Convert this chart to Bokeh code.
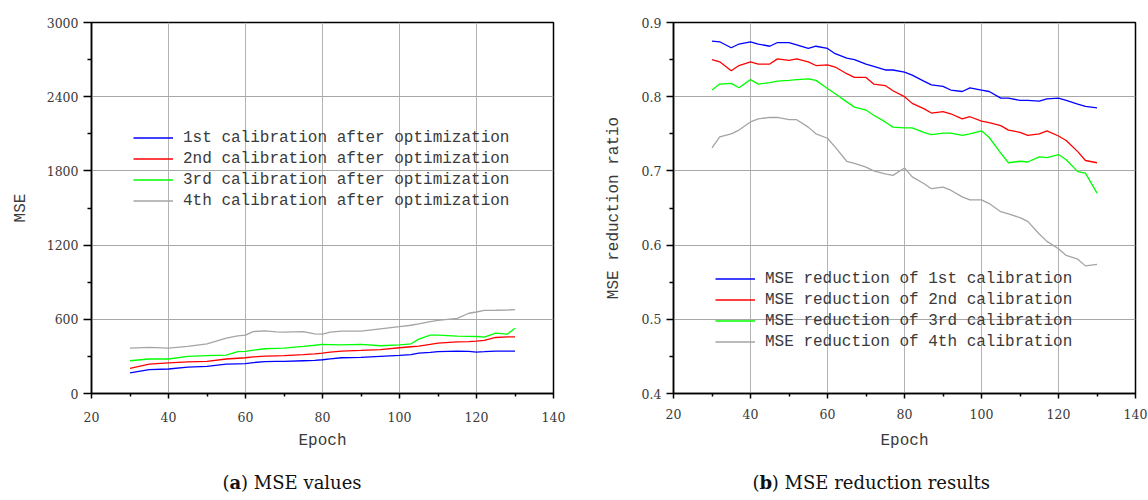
from bokeh.plotting import figure
from bokeh.layouts import row, column
from bokeh.models import FixedTicker, Legend, LegendItem
from bokeh.core.properties import value
from bokeh.embed import file_html
from bokeh.resources import INLINE

# ---------------- data: (a) MSE values ----------------
epochs_a = [30, 35, 40, 45, 50, 55, 58, 60, 62, 65, 68, 70, 75, 78, 80, 82, 85, 90,
            95, 100, 103, 105, 108, 110, 115, 118, 120, 122, 125, 128, 130]
mse_cal1 = [166, 193, 198, 214, 220, 238, 240, 241, 250, 257, 259, 260, 265, 268, 273, 280,
            289, 292, 300, 308, 315, 327, 333, 338, 343, 340, 335, 338, 343, 342, 343]
mse_cal2 = [204, 238, 247, 255, 260, 279, 285, 289, 296, 303, 305, 306, 314, 320, 327, 335,
            343, 348, 354, 370, 378, 383, 398, 407, 418, 420, 423, 430, 453, 458, 458]
mse_cal3 = [265, 279, 279, 300, 306, 311, 338, 340, 350, 362, 365, 367, 381, 390, 397, 396,
            394, 397, 386, 394, 402, 440, 472, 472, 464, 462, 461, 456, 488, 480, 528]
mse_cal4 = [367, 373, 367, 381, 402, 448, 466, 472, 501, 506, 499, 496, 501, 482, 480, 496,
            504, 504, 523, 541, 552, 563, 582, 592, 608, 649, 659, 672, 673, 675, 678]
labels_a = ["1st calibration after optimization", "2nd calibration after optimization",
            "3rd calibration after optimization", "4th calibration after optimization"]

# ---------------- data: (b) MSE reduction results ----------------
epochs_b = [30, 32, 35, 37, 40, 42, 45, 47, 50, 52, 55, 57, 60, 62, 65, 67, 70, 72, 75, 77,
            80, 82, 85, 87, 90, 92, 95, 97, 100, 102, 105, 107, 110, 112, 115, 117, 120, 122,
            125, 127, 130]
red_cal1 = [0.875, 0.874, 0.866, 0.871, 0.874, 0.871, 0.868, 0.873, 0.873, 0.870, 0.865, 0.868,
            0.865, 0.858, 0.852, 0.850, 0.844, 0.841, 0.836, 0.836, 0.833, 0.829, 0.821, 0.816,
            0.814, 0.809, 0.807, 0.812, 0.809, 0.807, 0.798, 0.798, 0.795, 0.795, 0.794, 0.797,
            0.798, 0.795, 0.790, 0.787, 0.785]
red_cal2 = [0.850, 0.847, 0.835, 0.842, 0.847, 0.844, 0.844, 0.851, 0.849, 0.851, 0.847, 0.842,
            0.843, 0.840, 0.831, 0.826, 0.826, 0.817, 0.815, 0.808, 0.800, 0.791, 0.784, 0.778,
            0.780, 0.777, 0.770, 0.773, 0.767, 0.765, 0.761, 0.755, 0.752, 0.748, 0.750, 0.754,
            0.747, 0.741, 0.726, 0.714, 0.711]
red_cal3 = [0.809, 0.817, 0.818, 0.812, 0.823, 0.817, 0.819, 0.821, 0.822, 0.823, 0.824, 0.822,
            0.811, 0.804, 0.793, 0.786, 0.782, 0.775, 0.766, 0.759, 0.758, 0.758, 0.752, 0.749,
            0.751, 0.751, 0.748, 0.750, 0.754, 0.745, 0.724, 0.711, 0.713, 0.712, 0.719, 0.718,
            0.722, 0.715, 0.699, 0.697, 0.670]
red_cal4 = [0.731, 0.746, 0.750, 0.755, 0.766, 0.770, 0.772, 0.772, 0.769, 0.769, 0.759, 0.750,
            0.744, 0.732, 0.713, 0.710, 0.705, 0.700, 0.696, 0.694, 0.704, 0.692, 0.683, 0.676,
            0.678, 0.674, 0.665, 0.661, 0.661, 0.656, 0.645, 0.642, 0.637, 0.632, 0.615, 0.605,
            0.595, 0.586, 0.581, 0.572, 0.574]
labels_b = ["MSE reduction of 1st calibration", "MSE reduction of 2nd calibration",
            "MSE reduction of 3rd calibration", "MSE reduction of 4th calibration"]

x_ticks = [20, 40, 60, 80, 100, 120, 140]
x_minor = [30, 50, 70, 90, 110, 130]
ya_ticks = [0, 600, 1200, 1800, 2400, 3000]
ya_minor = [300, 900, 1500, 2100, 2700]
yb_ticks = [0.4, 0.5, 0.6, 0.7, 0.8, 0.9]
yb_minor = [0.45, 0.55, 0.65, 0.75, 0.85]

caption_letters = ["a", "b"]
caption_texts = [") MSE values", ") MSE reduction results"]

colors = ["#0000ff", "#ff0000", "#00ff00", "#a4a4a4"]
FONT = "Liberation Mono"
TICK_FONT = "DejaVu Serif"
TXT = "#3a3a3a"


def style(p, yt, ym, x_standoff, y_tick_out, xlab_standoff, ylab_standoff):
    p.xaxis.ticker = FixedTicker(ticks=x_ticks, minor_ticks=x_minor)
    p.yaxis.ticker = FixedTicker(ticks=yt, minor_ticks=ym)
    for ax in (p.xaxis[0], p.yaxis[0]):
        ax.axis_line_color = "black"
        ax.axis_line_width = 1.5
        ax.major_tick_line_color = "black"
        ax.major_tick_line_width = 1.5
        ax.minor_tick_line_color = "black"
        ax.minor_tick_line_width = 1.5
        ax.major_tick_in = 0
        ax.minor_tick_in = 0
        ax.major_label_text_font = TICK_FONT
        ax.major_label_text_font_size = "12.5px"
        ax.major_label_text_color = TXT
        ax.axis_label_text_font = FONT
        ax.axis_label_text_font_size = "16px"
        ax.axis_label_text_font_style = "normal"
        ax.axis_label_text_color = TXT
    p.xaxis.major_tick_out = 5
    p.xaxis.minor_tick_out = 3
    p.yaxis.major_tick_out = y_tick_out
    p.yaxis.minor_tick_out = 4
    p.xaxis.major_label_standoff = x_standoff
    p.yaxis.major_label_standoff = 5
    p.xaxis.axis_label_standoff = xlab_standoff
    p.yaxis.axis_label_standoff = ylab_standoff
    p.xgrid.grid_line_color = "#b4b4b4"
    p.ygrid.grid_line_color = "#a8a8a8"
    p.xgrid.grid_line_width = 1
    p.ygrid.grid_line_width = 1
    p.outline_line_color = "black"
    p.outline_line_width = 1.5
    p.outline_line_alpha = 1


def add_legend(p, renderers, labels, loc):
    lg = Legend(items=[LegendItem(label=l, renderers=[r]) for l, r in zip(labels, renderers)],
                location=loc)
    lg.label_text_font = FONT
    lg.label_text_font_size = "16px"
    lg.label_text_color = TXT
    lg.background_fill_alpha = 0
    lg.border_line_alpha = 0
    lg.padding = 0
    lg.margin = 0
    lg.spacing = 0
    lg.glyph_width = 40
    lg.glyph_height = 21
    lg.label_height = 21
    lg.label_standoff = 10
    p.add_layout(lg)


# ---------------- left figure ----------------
pa = figure(width=588, height=460, x_range=(20, 140), y_range=(0, 3000),
            output_backend="svg", toolbar_location=None,
            min_border_left=91, min_border_right=35, min_border_top=21, min_border_bottom=66,
            x_axis_label="Epoch", y_axis_label="MSE")
style(pa, ya_ticks, ya_minor, 13, 8, 7, 14)
ra = []
for ys, c in zip([mse_cal1, mse_cal2, mse_cal3, mse_cal4], colors):
    ra.append(pa.line(epochs_a, ys, line_color=c, line_width=1.3))
add_legend(pa, ra, labels_a, (42, 182))

# ---------------- right figure ----------------
pb = figure(width=560, height=460, x_range=(20, 140), y_range=(0.4, 0.9),
            output_backend="svg", toolbar_location=None,
            min_border_left=85, min_border_right=13, min_border_top=22, min_border_bottom=67,
            x_axis_label="Epoch", y_axis_label="MSE reduction ratio")
style(pb, yb_ticks, yb_minor, 10, 7, 10, 16)
rb = []
for ys, c in zip([red_cal1, red_cal2, red_cal3, red_cal4], colors):
    rb.append(pb.line(epochs_b, ys, line_color=c, line_width=1.3))
add_legend(pb, rb, labels_b, (42, 41))

# ---------------- captions strip ----------------
pc = figure(width=1148, height=38, x_range=(0, 1148), y_range=(0, 38),
            output_backend="svg", toolbar_location=None,
            min_border=0, min_border_left=0, min_border_right=0,
            min_border_top=0, min_border_bottom=0)
pc.axis.visible = False
pc.grid.visible = False
pc.outline_line_color = None
pc.background_fill_alpha = 0
pc.border_fill_alpha = 0
cap_x = [222, 752]
letter_w = [11.6, 12.3]
for i in range(2):
    kw = dict(text_font=value("DejaVu Serif"), text_font_size="18px",
              text_color="#111111", text_baseline="middle", text_align="left")
    pc.text(x=[cap_x[i]], y=[16], text=["("], **kw)
    pc.text(x=[cap_x[i] + 7], y=[16], text=[caption_letters[i]], text_font_style="bold", **kw)
    pc.text(x=[cap_x[i] + 7 + letter_w[i]], y=[16], text=[caption_texts[i]], **kw)

layout = column(row(pa, pb), pc)
open("out.html", "w").write(file_html(layout, INLINE))
